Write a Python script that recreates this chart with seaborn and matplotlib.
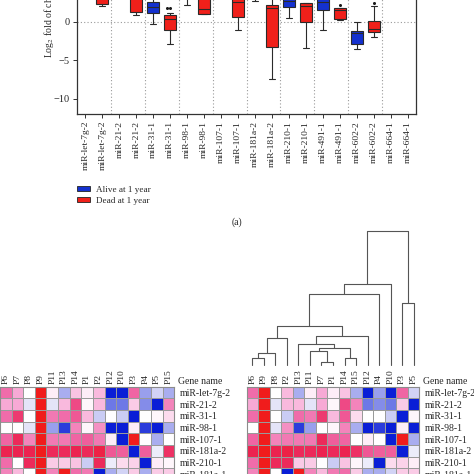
"""
Boxplot of miRNA fold change by 1-year survival, with expression heatmaps
"""

import pandas as pd
import seaborn as sns
import matplotlib.pyplot as plt
from matplotlib.colors import LinearSegmentedColormap
from matplotlib.patches import Patch

mirnas = ['miR-let-7g-2', 'miR-21-2', 'miR-31-1', 'miR-98-1', 'miR-107-1',
          'miR-181a-2', 'miR-210-1', 'miR-491-1', 'miR-602-2', 'miR-664-1']
groups = ['Alive at 1 year', 'Dead at 1 year']

# five-number summaries per box: min, q1, median, q3, max
alive_stats = [
    [3.3, 4.0, 4.6, 5.2, 6.0],
    [3.2, 3.8, 4.4, 5.0, 5.8],
    [-0.26, 1.13, 1.9, 2.5, 3.3],
    [2.2, 3.2, 3.8, 4.5, 5.2],
    [3.1, 3.6, 4.2, 4.8, 5.5],
    [2.64, 3.1, 3.6, 4.2, 5.0],
    [0.48, 1.86, 2.6, 3.3, 4.2],
    [-1.04, 1.56, 2.5, 3.2, 4.0],
    [-3.5, -2.86, -1.47, -1.17, -0.09],
    [],
]
dead_stats = [
    [2.0, 2.25, 3.0, 3.6, 4.3],
    [0.9, 1.2, 3.0, 3.5, 4.2],
    [-2.9, -1.13, 0.39, 0.82, 1.13],
    [1.0, 1.0, 1.65, 3.2, 3.9],
    [-1.04, 0.6, 2.55, 3.2, 3.8],
    [-7.45, -3.33, 1.77, 2.2, 3.1],
    [-3.4, -0.09, 2.0, 2.34, 2.4],
    [0.26, 0.3, 1.56, 1.77, 1.8],
    [-2.0, -1.34, -0.95, 0.09, 2.0],
    [],
]
dead_outlier_mirna = ['miR-31-1', 'miR-31-1', 'miR-491-1', 'miR-602-2']
dead_outlier_value = [1.7, 1.7, 2.2, 2.35]

# heatmap data
genes = ['miR-let-7g-2', 'miR-21-2', 'miR-31-1', 'miR-98-1', 'miR-107-1',
         'miR-181a-2', 'miR-210-1', 'miR-181a-1']
left_cols = ['P6', 'P7', 'P8', 'P9', 'P11', 'P13', 'P14', 'P1', 'P2',
             'P12', 'P10', 'P3', 'P4', 'P5', 'P15']
right_cols = ['P6', 'P9', 'P8', 'P2', 'P13', 'P11', 'P7', 'P1', 'P14',
              'P15', 'P12', 'P4', 'P10', 'P3', 'P5']
expr_let7g2 = [1.5, 1.0, 0.0, 3.0, 0.2, -1.0, 0.7, 0.2, 0.8, -3.0, -3.0, 1.6, -1.2, -0.5, -1.0]
expr_21_2 = [1.0, 1.0, -0.3, 3.0, -0.3, 0.8, 2.0, 0.1, 0.8, -1.8, -1.8, 0.6, -1.5, -3.0, 1.3]
expr_31_1 = [1.5, 2.2, 0.0, 3.0, 1.4, 1.5, 1.8, 0.8, -0.6, 0.0, -0.6, -3.0, 0.0, 0.1, 0.4]
expr_98_1 = [0.0, 0.0, -0.3, 3.0, -1.2, -2.6, 1.3, 0.1, 1.2, -3.0, -3.0, 0.2, -2.6, -3.0, -1.0]
expr_107_1 = [1.6, 2.4, 1.3, 3.0, 1.4, 1.4, 1.6, 1.7, 1.4, 0.2, -3.0, 3.0, 0.0, -1.0, 0.0]
expr_181a_2 = [2.5, 2.5, 2.5, 3.0, 2.4, 2.4, 2.5, 2.4, 2.6, 1.8, 1.7, -3.0, 1.7, -0.2, 2.3]
expr_210_1 = [1.5, 0.0, 2.4, 3.0, 0.6, 0.6, 0.7, -0.6, 2.4, -0.2, 0.4, 0.5, -3.0, 0.2, 0.1]
expr_181a_1 = [1.3, 0.8, 0.0, 3.0, 1.3, 3.0, 1.5, 1.4, -3.0, -1.0, -0.5, 0.6, -1.0, 0.6, 0.6]

# column dendrogram of the right heatmap: (left, right, height), ints refer to earlier merges
links = [
    ('P6', 'P9', 6.7), (0, 'P8', 12.3), (1, 'P2', 26.7),
    ('P7', 'P1', 3.3), ('P11', 3, 14.0), ('P14', 'P15', 6.7),
    (4, 5, 16.7), ('P13', 6, 20.7), (7, 'P12', 29.0),
    (2, 8, 39.0), (9, 'P4', 71.0), (10, 'P10', 80.7),
    ('P3', 'P5', 61.7), (11, 12, 134.0),
]

PX = 1 / 474
BLUE = '#1431cf'
RED = '#f0201a'


def boxplot_panel(fig):
    ax = fig.add_axes([77 * PX, 1 - 114 * PX, 339 * PX, 131 * PX])
    keys = [m + ' | ' + g for m in mirnas for g in groups]

    rows = []
    for m, a, d in zip(mirnas, alive_stats, dead_stats):
        for g, st in zip(groups, (a, d)):
            for v in st:
                rows.append({'key': m + ' | ' + g, 'group': g, 'value': v})
    df = pd.DataFrame(rows)
    odf = pd.DataFrame({'key': [m + ' | ' + groups[1] for m in dead_outlier_mirna],
                        'value': dead_outlier_value})

    sns.boxplot(data=df, x='key', y='value', hue='group', order=keys,
                hue_order=groups, palette={groups[0]: BLUE, groups[1]: RED},
                saturation=1, dodge=False, width=0.7, whis=(0, 100),
                showfliers=False, linecolor='#2a2a2a', linewidth=0.8,
                legend=False, ax=ax)
    sns.swarmplot(data=odf, x='key', y='value', order=keys, color='#1a1a1a',
                  size=2.2, ax=ax)

    for k in range(1, len(mirnas)):
        ax.axvline(2 * k - 0.5, color='#9a9a9a', ls=(0, (1, 2)), lw=0.8, zorder=0)
    ax.axhline(0, color='#9a9a9a', ls=(0, (1, 2)), lw=0.8, zorder=0)

    ax.set_xlim(-0.5, len(keys) - 0.5)
    ax.set_ylim(-12, 5)
    ax.set_xticks(range(len(keys)))
    ax.set_xticklabels([m for m in mirnas for _ in groups], rotation=90, fontsize=6.8)
    ax.set_yticks([-10, -5, 0])
    ax.tick_params(axis='y', labelsize=7.5)
    ax.tick_params(length=3, width=0.7, color='#333333', pad=2)
    ax.set_xlabel('')
    ax.set_ylabel('Log$_2$ fold of change', fontsize=7, loc='bottom')
    ax.yaxis.set_label_coords(-0.062, 0.427)
    for sp in ax.spines.values():
        sp.set_visible(True)
        sp.set_color('#333333')
        sp.set_linewidth(0.9)

    handles = [Patch(facecolor=BLUE, edgecolor='#222222', lw=0.6, label=groups[0]),
               Patch(facecolor=RED, edgecolor='#222222', lw=0.6, label=groups[1])]
    fig.legend(handles=handles, loc='upper left', bbox_to_anchor=(77 * PX, 1 - 186 * PX),
               frameon=False, fontsize=6.6, handlelength=1.4, handleheight=0.45,
               handletextpad=0.65, labelspacing=0.3, borderaxespad=0, borderpad=0)
    fig.text(0.5, 1 - 222 * PX, '(a)', ha='center', va='center', fontsize=7)


def heatmap_panel(fig, expr, cols, left, width):
    cmap = LinearSegmentedColormap.from_list('bwr_pink', [
        (0.0, '#0a1ed6'), (0.2, '#6d78e6'), (0.333, '#a9adef'), (0.45, '#e3e3f8'),
        (0.5, '#ffffff'), (0.583, '#fbd3ea'), (0.667, '#f7a9d5'), (0.75, '#f06dab'),
        (0.833, '#ee4a86'), (0.917, '#ec2350'), (1.0, '#f01c1c')])
    ax = fig.add_axes([left * PX, 1 - 480 * PX, width * PX, 93.3 * PX])
    sns.heatmap(expr[cols], cmap=cmap, vmin=-3, vmax=3, cbar=False,
                xticklabels=True, yticklabels=True,
                linewidths=0.6, linecolor='#9a9a9a', ax=ax)
    ax.xaxis.tick_top()
    ax.yaxis.tick_right()
    ax.tick_params(axis='x', length=0, pad=2, labelsize=6.8, labelrotation=90)
    ax.tick_params(axis='y', length=0, pad=3.8, labelsize=7, labelrotation=0)
    for lab in ax.get_yticklabels():
        lab.set_horizontalalignment('left')
    ax.set_xlabel('')
    ax.set_ylabel('')
    for sp in ax.spines.values():
        sp.set_visible(True)
        sp.set_color('#8c8c8c')
        sp.set_linewidth(0.8)
    fig.text((left + width + 4) * PX, 1 - 382 * PX, 'Gene name', ha='left',
             va='center', fontsize=7)


def dendrogram_panel(fig, left, width):
    ax = fig.add_axes([left * PX, (474 - 365) * PX, width * PX, 134 * PX])
    nodes = []

    def pos(n):
        if isinstance(n, str):
            return right_cols.index(n) + 0.5, 0.0
        return nodes[n]

    for a, b, h in links:
        xa, ha = pos(a)
        xb, hb = pos(b)
        ax.plot([xa, xa, xb, xb], [ha, h, h, hb], color='#555555', lw=0.8,
                clip_on=False)
        nodes.append(((xa + xb) / 2, h))
    ax.set_xlim(0, len(right_cols))
    ax.set_ylim(0, 134)
    ax.axis('off')


def main():
    sns.set_style('ticks')
    plt.rcParams['font.family'] = ['Liberation Serif', 'DejaVu Serif']
    plt.rcParams['mathtext.fontset'] = 'stix'

    expr = pd.DataFrame([expr_let7g2, expr_21_2, expr_31_1, expr_98_1, expr_107_1,
                         expr_181a_2, expr_210_1, expr_181a_1],
                        index=genes, columns=left_cols)

    fig = plt.figure(figsize=(4.74, 4.74), dpi=100)
    boxplot_panel(fig)
    heatmap_panel(fig, expr, left_cols, 0, 174.3)
    heatmap_panel(fig, expr, right_cols, 246.7, 172.6)
    dendrogram_panel(fig, 246.7, 172.6)
    fig.savefig('out.png', dpi=100)


if __name__ == "__main__":
    main()
